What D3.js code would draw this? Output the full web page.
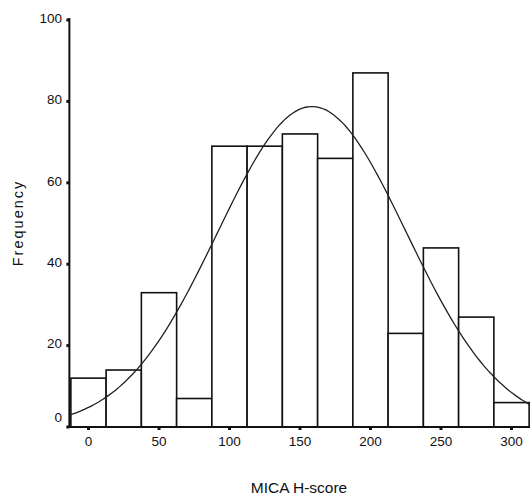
<!DOCTYPE html>
<html>
<head>
<meta charset="utf-8">
<script src="https://cdn.jsdelivr.net/npm/d3@7"></script>
<style>
    body { margin: 0; background: #fff; }
    text { font-family: "Liberation Sans", Arial, sans-serif; fill: #111; }
</style>
</head>
<body>
<div id="chart-div"></div>
<script>
// HISTOGRAM OF MICA H-SCORE WITH FITTED NORMAL CURVE

// DATA ///////////////////////////////////////////////////////////////////////
const binCenters = [0, 25, 50, 75, 100, 125, 150, 175, 200, 225, 250, 275, 300];
const frequencies = [12, 14, 33, 7, 69, 69, 72, 66, 87, 23, 44, 27, 6];
const binWidth = 25;
const xTicks = [0, 50, 100, 150, 200, 250, 300];
const yTicks = [0, 20, 40, 60, 80, 100];
// fitted normal parameters
const fitMean = 158.5;
const fitSd = 67;

(function() {
    const width = 530, height = 499;
    const svg = d3.select("#chart-div")
        .append("svg")
        .attr("width", width)
        .attr("height", height);

    const x = d3.scaleLinear().domain([0, 300]).range([88.5, 511.5]);
    const y = d3.scaleLinear().domain([0, 100]).range([427, 20]);
    const x0 = x(-12.5) - 1.5;

    // Bars
    svg.selectAll(".bar")
        .data(binCenters)
        .enter().append("rect")
        .attr("class", "bar")
        .attr("x", (d) => x(d - binWidth / 2))
        .attr("width", (d) => x(d + binWidth / 2) - x(d - binWidth / 2))
        .attr("y", (d, i) => y(frequencies[i]))
        .attr("height", (d, i) => y(0) - y(frequencies[i]))
        .attr("fill", "#fff")
        .attr("stroke", "#111")
        .attr("stroke-width", 1.6);

    // Normal curve, scaled to counts
    const total = d3.sum(frequencies);
    const dens = (v) => total * binWidth / (fitSd * Math.sqrt(2 * Math.PI)) *
        Math.exp(-0.5 * Math.pow((v - fitMean) / fitSd, 2));
    const curveX = d3.range(-12.5, 313, 2.5);
    svg.append("path")
        .datum(curveX)
        .attr("d", d3.line().x((v) => x(v)).y((v) => y(dens(v))).curve(d3.curveBasis))
        .attr("fill", "none")
        .attr("stroke", "#222")
        .attr("stroke-width", 1.3);

    // Y axis
    svg.append("line")
        .attr("x1", x0).attr("x2", x0)
        .attr("y1", y(100) - 2).attr("y2", y(0))
        .attr("stroke", "#111").attr("stroke-width", 2);
    svg.selectAll(".ytick")
        .data(yTicks)
        .enter().append("rect")
        .attr("class", "ytick")
        .attr("x", x0 - 3).attr("y", (d) => y(d) - 1.5)
        .attr("width", 3).attr("height", 3)
        .attr("fill", "#111");
    svg.selectAll(".ylab")
        .data(yTicks)
        .enter().append("text")
        .attr("class", "ylab")
        .attr("x", 62)
        .attr("y", (d) => y(d) - (d === 0 ? 10 : 2))
        .attr("dy", "0.35em")
        .attr("text-anchor", "end")
        .attr("font-size", 13.5)
        .text((d) => d);

    // X axis
    svg.append("line")
        .attr("x1", x0 - 1).attr("x2", width)
        .attr("y1", y(0)).attr("y2", y(0))
        .attr("stroke", "#111").attr("stroke-width", 2);
    svg.selectAll(".xtick")
        .data(xTicks)
        .enter().append("rect")
        .attr("class", "xtick")
        .attr("x", (d) => x(d) - 1.5).attr("y", y(0))
        .attr("width", 3).attr("height", 3)
        .attr("fill", "#111");
    svg.selectAll(".xlab")
        .data(xTicks)
        .enter().append("text")
        .attr("class", "xlab")
        .attr("x", (d) => x(d))
        .attr("y", 441)
        .attr("dy", "0.35em")
        .attr("text-anchor", "middle")
        .attr("font-size", 13.5)
        .text((d) => d);

    // Axis titles
    svg.append("text")
        .attr("transform", "translate(23,223) rotate(-90)")
        .attr("text-anchor", "middle")
        .attr("font-size", 14.5)
        .attr("letter-spacing", 2)
        .text("Frequency");
    svg.append("text")
        .attr("x", 299).attr("y", 493)
        .attr("text-anchor", "middle")
        .attr("font-size", 15.5)
        .text("MICA H-score");
})();
</script>
</body>
</html>
